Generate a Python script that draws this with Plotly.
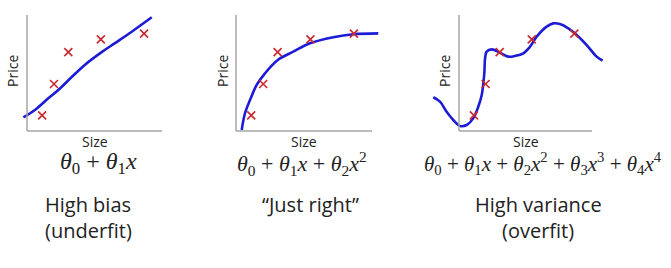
import plotly.graph_objects as go

W, H = 671, 268

# Data (arbitrary units: size 0-10, price 0-10)
size_pts = [1.12, 2.0, 3.06, 5.47, 8.67]
price_pts = [1.35, 4.05, 6.8, 7.9, 8.4]

fit1_x = [-0.27, 0.59, 1.58, 2.32, 3.31, 4.30, 5.53, 6.52, 7.76, 9.24]
fit1_y = [1.18, 1.81, 2.82, 3.53, 4.65, 5.72, 6.80, 7.58, 8.56, 9.80]

fit2_x = [0.42, 0.66, 1.03, 1.52, 2.13, 3.07, 4.21, 5.44, 7.15, 8.63, 10.46]
fit2_y = [0.09, 1.53, 2.67, 3.97, 4.97, 6.12, 6.84, 7.56, 8.08, 8.34, 8.42]

fit3_x = [-1.93, -1.43, -0.93, -0.43, 0.08, 0.58, 1.07, 1.45, 1.71, 1.83, 1.91, 1.96,
          2.08, 2.46, 3.08, 3.71, 4.21, 4.84, 5.34, 5.84, 6.59, 7.09, 7.59, 8.22,
          8.85, 9.60, 10.35, 10.80]
fit3_y = [2.91, 2.53, 1.66, 0.95, 0.43, 0.52, 1.09, 2.09, 3.10, 4.11, 5.11, 6.27,
          6.84, 7.04, 6.75, 6.41, 6.47, 6.70, 7.27, 8.13, 9.00, 9.28, 9.22, 8.85,
          8.28, 7.41, 6.41, 6.06]

fits = [(fit1_x, fit1_y), (fit2_x, fit2_y), (fit3_x, fit3_y)]

formulas = [
    "<i>θ</i><sub>0</sub> + <i>θ</i><sub>1</sub><i>x</i>",
    "<i>θ</i><sub>0</sub> + <i>θ</i><sub>1</sub><i>x</i> + <i>θ</i><sub>2</sub><i>x</i><sup>2</sup>",
    "<i>θ</i><sub>0</sub> + <i>θ</i><sub>1</sub><i>x</i> + <i>θ</i><sub>2</sub><i>x</i><sup>2</sup>"
    " + <i>θ</i><sub>3</sub><i>x</i><sup>3</sup> + <i>θ</i><sub>4</sub><i>x</i><sup>4</sup>",
]
labels_line1 = ["High bias", "“Just right”", "High variance"]
labels_line2 = ["(underfit)", "", "(overfit)"]
axis_max = 10

# Layout geometry (pixels)
panels = [
    dict(ox=27, sx=13.5, xr=[-0.7, 10.2], label_x=88, formula_x=98, formula_size=24, price_x=12),
    dict(ox=236, sx=13.6, xr=[-0.3, 10.8], label_x=310, formula_x=302, formula_size=22, price_x=222),
    dict(ox=459, sx=13.3, xr=[-2.2, 11.1], label_x=538, formula_x=543, formula_size=21, price_x=444),
]
oy, sy = 131, 11.6
yr = [-0.5, 10.5]

fig = go.Figure()
annotations = []
shapes = []
layout_axes = {}
blue = "#1c1cd6"
red = "#c8282e"
axis_col = "#a6a6a6"
txt_col = "#222222"
sans = "Open Sans"

for i, p in enumerate(panels):
    n = i + 1
    xs = "" if n == 1 else str(n)
    fx, fy = fits[i]
    fig.add_trace(go.Scatter(x=fx, y=fy, mode="lines", line=dict(color=blue, width=2.6, shape="spline", smoothing=1.0),
                             xaxis="x" + xs, yaxis="y" + xs, showlegend=False, hoverinfo="skip"))
    fig.add_trace(go.Scatter(x=size_pts, y=price_pts, mode="markers",
                             marker=dict(symbol="x-thin", size=8, line=dict(color=red, width=1.6), color=red),
                             xaxis="x" + xs, yaxis="y" + xs, showlegend=False, cliponaxis=False))
    d0 = (p["ox"] + p["xr"][0] * p["sx"]) / W
    d1 = (p["ox"] + p["xr"][1] * p["sx"]) / W
    yd0 = 1 - (oy - yr[0] * sy) / H
    yd1 = 1 - (oy - yr[1] * sy) / H
    layout_axes["xaxis" + xs] = dict(domain=[d0, d1], range=p["xr"], visible=False, anchor="y" + xs)
    layout_axes["yaxis" + xs] = dict(domain=[yd0, yd1], range=yr, visible=False, anchor="x" + xs)
    # L-shaped axes
    shapes.append(dict(type="line", xref="x" + xs, yref="y" + xs, x0=0, x1=0, y0=0, y1=axis_max,
                       line=dict(color=axis_col, width=1.5)))
    shapes.append(dict(type="line", xref="x" + xs, yref="y" + xs, x0=0, x1=axis_max, y0=0, y1=0,
                       line=dict(color=axis_col, width=1.5)))
    annotations.append(dict(text="Price", textangle=-90, xref="paper", yref="paper",
                            x=p["price_x"] / W, y=1 - 71 / H, xanchor="center", yanchor="middle",
                            showarrow=False, font=dict(family=sans, size=14, color=txt_col)))
    annotations.append(dict(text="Size", xref="x" + xs, yref="paper", x=axis_max / 2, y=1 - 141 / H,
                            xanchor="center", yanchor="middle",
                            showarrow=False, font=dict(family=sans, size=14, color=txt_col)))
    annotations.append(dict(text=formulas[i], xref="paper", yref="paper", x=p["formula_x"] / W, y=1 - 163 / H,
                            xanchor="center", yanchor="middle",
                            showarrow=False, font=dict(family="Liberation Serif", size=p["formula_size"], color=txt_col)))
    annotations.append(dict(text=labels_line1[i], xref="paper", yref="paper", x=p["label_x"] / W,
                            y=1 - 204 / H, xanchor="center", yanchor="middle", showarrow=False,
                            font=dict(family=sans, size=20, color=txt_col)))
    if labels_line2[i]:
        annotations.append(dict(text=labels_line2[i], xref="paper", yref="paper", x=p["label_x"] / W,
                                y=1 - 230 / H, xanchor="center", yanchor="middle", showarrow=False,
                                font=dict(family=sans, size=20, color=txt_col)))

fig.update_layout(width=W, height=H, margin=dict(l=0, r=0, t=0, b=0),
                  paper_bgcolor="white", plot_bgcolor="white",
                  annotations=annotations, shapes=shapes, **layout_axes)

fig.write_html("out.html")
